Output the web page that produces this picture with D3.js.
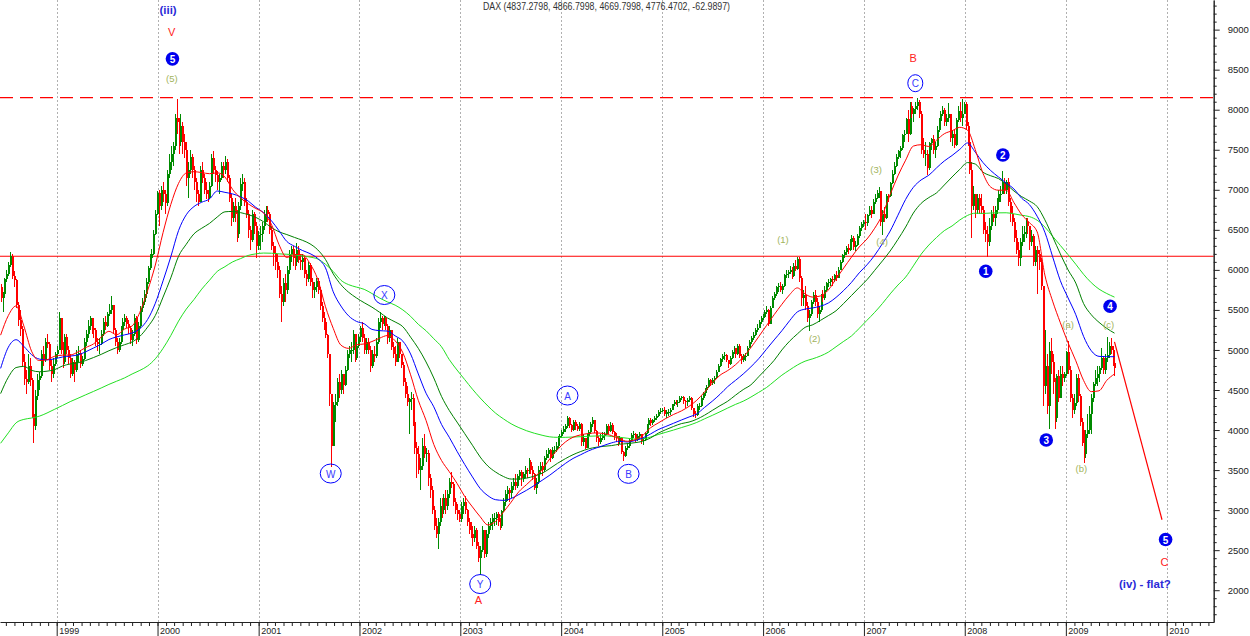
<!DOCTYPE html>
<html>
<head>
<meta charset="utf-8">
<script src="https://d3js.org/d3.v7.min.js"></script>
<style>
  body { margin: 0; background: #fff; }
  svg { display: block; }
  text { font-family: "Liberation Sans", Arial, sans-serif; }
</style>
</head>
<body>
<svg id="chart" width="1250" height="636"></svg>
<script>
// ---------------------------------------------------------
// DATA  (weekly bars, [high, low, close]; open = previous close)
// ---------------------------------------------------------
const firstWeek = "1998-06-12";
const firstOpen = 5780;
const titleText = "DAX (4837.2798, 4866.7998, 4669.7998, 4776.4702, -62.9897)";

const bars1998 = [[5820,5600,5650],[5720,5480,5700],[5900,5690,5880],[6000,5850,5950],[6100,5920,6060],[6220,6030,6170],[6200,5880,5920],[5990,5780,5870],[5880,5520,5560],[5600,5300,5380],
  [5500,5180,5260],[5300,4800,4850],[4950,4560,4640],[4750,4450,4600],[4950,4580,4800],[4900,4550,4620],[4650,4150,4200],[4250,3833,4050],[4500,4000,4420],[4700,4380,4620],
  [4720,4500,4671],[5000,4650,4950],[5050,4800,4870],[5150,4850,5100],[5200,5020,5080],[5100,4750,4800],[4880,4600,4700],[4900,4650,4820],[4980,4800,4950]];

const bars1999 = [[5050,4900,5002],[5480,5000,5400],[5400,4950,5000],[5100,4780,4850],[5200,4820,5159],[5200,4950,5000],[5050,4820,4900],[4950,4650,4700],[4900,4680,4854],[4880,4600,4750],
  [5000,4730,4950],[5050,4850,4960],[5000,4780,4820],[4920,4800,4884],[5150,4880,5100],[5250,5050,5200],[5380,5150,5300],[5420,5250,5393],[5400,5200,5280],[5350,5150,5250],
  [5280,5050,5100],[5150,4990,5069],[5150,4950,5080],[5250,5060,5200],[5400,5180,5350],[5420,5250,5300],[5480,5290,5450],[5580,5420,5500],[5670,5450,5560],[5560,5200,5250],
  [5280,5050,5098],[5150,4950,5000],[5150,4980,5100],[5300,5080,5250],[5400,5230,5350],[5450,5300,5400],[5430,5280,5330],[5380,5200,5280],[5300,5080,5130],[5250,5050,5200],
  [5450,5180,5400],[5420,5080,5120],[5350,5100,5300],[5550,5280,5524],[5650,5480,5600],[5750,5560,5700],[5900,5650,5850],[6050,5820,6026],[6200,6000,6150],[6260,6080,6200],
  [6500,6180,6450],[6750,6430,6700],[6990,6680,6958]];

const bars2000 = [[7000,6550,6800],[7050,6750,7000],[7100,6850,6950],[7000,6700,6835],[7250,6800,7200],[7450,7150,7350],[7550,7250,7450],[7600,7300,7550],[7950,7500,7900],[8136,7700,7850],
  [7900,7450,7600],[7950,7550,7800],[7850,7450,7599],[7700,7400,7500],[7600,7050,7150],[7350,6900,7250],[7500,7200,7414],[7450,7150,7250],[7300,7000,7100],[7150,6850,6950],
  [7000,6800,6850],[7300,6850,7250],[7350,7080,7150],[7200,6950,7000],[7100,6880,6950],[7000,6850,6898],[7100,6880,7050],[7450,7030,7400],[7480,7200,7250],[7300,7100,7190],
  [7230,7000,7100],[7200,6950,7150],[7350,7120,7300],[7350,7150,7250],[7420,7200,7350],[7380,7100,7150],[7180,6850,6900],[6950,6550,6650],[6850,6600,6798],[6900,6600,6700],
  [6750,6350,6450],[6850,6400,6800],[7150,6750,7077],[7200,6980,7100],[7150,6800,6850],[6900,6650,6700],[6750,6400,6500],[6550,6250,6372],[6750,6350,6700],[6720,6450,6550],
  [6600,6150,6300],[6480,6250,6434]];

const bars2001 = [[6550,6250,6450],[6600,6350,6550],[6750,6500,6700],[6800,6600,6750],[6800,6600,6700],[6720,6450,6500],[6550,6250,6300],[6350,6050,6208],[6300,6000,6100],[6200,5900,6000],
  [6050,5650,5700],[5800,5350,5600],[5900,5550,5830],[5950,5600,5750],[6050,5700,6000],[6250,5950,6200],[6300,6100,6265],[6300,6050,6150],[6200,6000,6100],[6330,6050,6250],
  [6300,6080,6123],[6200,6000,6100],[6200,6000,6150],[6170,5900,5950],[6000,5800,5880],[6100,5850,6058],[6080,5800,5850],[5900,5650,5750],[5850,5650,5780],[5900,5720,5862],
  [5900,5700,5750],[5780,5500,5550],[5600,5350,5400],[5480,5250,5350],[5400,5150,5188],[5200,4900,4950],[4950,4300,4450],[4450,3540,3800],[4350,3800,4308],[4450,4100,4350],
  [4650,4300,4600],[4700,4400,4500],[4750,4450,4700],[4700,4450,4559],[4800,4550,4750],[5000,4740,4950],[5050,4900,5000],[5100,4850,5002],[5250,4950,5200],[5200,4850,4900],
  [5100,4880,5050],[5200,5020,5160]];

const bars2002 = [[5300,5100,5280],[5350,5100,5150],[5200,4950,5000],[5150,4950,5100],[5150,4950,5000],[5050,4730,4800],[5000,4780,4950],[5050,4850,4920],[5150,4900,5100],[5400,5080,5350],
  [5470,5280,5400],[5420,5250,5320],[5420,5300,5397],[5420,5250,5300],[5320,5080,5150],[5300,5100,5250],[5250,5000,5041],[5100,4900,4950],[5050,4800,4850],[5150,4850,5100],
  [5100,4900,4950],[4950,4780,4818],[4850,4550,4600],[4650,4400,4450],[4550,4300,4350],[4400,3950,4383],[4480,4250,4400],[4450,4050,4100],[4150,3700,3780],[3850,3400,3700],
  [3800,3450,3500],[3650,3250,3550],[3900,3500,3800],[3950,3650,3700],[3780,3600,3712],[3750,3300,3400],[3450,3150,3250],[3300,2950,3000],[3050,2750,2800],[2900,2650,2700],
  [2900,2519,2850],[3150,2800,3050],[3150,2900,3000],[3200,2950,3150],[3250,2950,3050],[3250,3000,3200],[3400,3150,3350],[3470,3280,3320],[3350,3050,3100],[3150,2950,3000],
  [3080,2880,2950],[3000,2850,2893]];

const bars2003 = [[3100,2850,3050],[3150,2950,3100],[3180,2950,3000],[3020,2800,2850],[2900,2700,2747],[2850,2650,2700],[2800,2550,2650],[2800,2600,2750],[2780,2520,2548],[2600,2350,2400],
  [2550,2189,2500],[2800,2480,2750],[2750,2400,2450],[2750,2420,2700],[2850,2650,2800],[2900,2750,2850],[2950,2750,2900],[2960,2800,2900],[2980,2820,2950],[2980,2800,2850],
  [2900,2750,2800],[3000,2780,2983],[3150,2980,3100],[3250,3050,3200],[3300,3120,3250],[3280,3100,3220],[3350,3150,3300],[3400,3250,3350],[3450,3250,3300],[3450,3280,3420],
  [3500,3380,3480],[3500,3300,3400],[3480,3350,3450],[3550,3400,3500],[3520,3400,3485],[3650,3450,3600],[3620,3450,3500],[3550,3380,3450],[3460,3250,3280],[3400,3200,3350],
  [3550,3330,3500],[3600,3450,3550],[3600,3420,3500],[3680,3480,3655],[3750,3620,3700],[3780,3650,3750],[3760,3600,3650],[3790,3640,3746],[3800,3700,3750],[3850,3720,3800],
  [3920,3780,3900],[3950,3870,3930]];

const bars2004 = [[4000,3900,3970],[4050,3950,4010],[4080,3980,4050],[4170,4030,4150],[4160,4020,4059],[4080,3970,4000],[4130,3990,4100],[4120,4000,4050],[4080,3990,4018],[4100,3990,4080],
  [4090,3800,3850],[3950,3800,3900],[3900,3760,3780],[3950,3770,3930],[4000,3900,3980],[4100,3950,4080],[4160,4040,4120],[4130,3960,3985],[4000,3850,3900],[3920,3800,3850],
  [3950,3820,3900],[3980,3880,3921],[3980,3880,3950],[4080,3940,4050],[4080,3950,3990],[4100,3980,4060],[4090,3950,3980],[3990,3880,3920],[3960,3850,3900],[3920,3800,3850],
  [3920,3820,3896],[3900,3700,3720],[3740,3618,3680],[3800,3660,3780],[3840,3750,3800],[3900,3780,3880],[3960,3860,3940],[3990,3900,3950],[3960,3850,3880],[3950,3860,3930],
  [3980,3890,3950],[3950,3820,3860],[3900,3810,3870],[3980,3860,3960],[4080,3950,4060],[4150,4050,4120],[4150,4050,4090],[4140,4060,4126],[4180,4100,4150],[4200,4120,4170],
  [4250,4160,4230],[4270,4200,4240],[4280,4230,4256]];

const bars2005 = [[4290,4170,4200],[4250,4150,4220],[4260,4180,4230],[4270,4190,4254],[4330,4250,4320],[4370,4300,4350],[4380,4310,4340],[4370,4290,4350],[4420,4340,4400],[4430,4370,4410],
  [4420,4330,4360],[4370,4280,4349],[4400,4300,4380],[4420,4350,4400],[4410,4250,4270],[4280,4160,4200],[4240,4150,4185],[4320,4180,4300],[4340,4250,4300],[4420,4290,4400],
  [4470,4380,4460],[4520,4430,4500],[4560,4480,4540],[4650,4530,4620],[4640,4550,4587],[4650,4560,4630],[4680,4580,4650],[4750,4640,4730],[4830,4720,4800],[4900,4790,4886],
  [4950,4850,4920],[4980,4880,4940],[4950,4850,4870],[4880,4780,4830],[4920,4810,4900],[5000,4890,4980],[5050,4950,5020],[5030,4900,4950],[5070,4940,5044],[5080,4900,4930],
  [4950,4820,4880],[4950,4850,4920],[4960,4860,4929],[5050,4920,5030],[5120,5020,5100],[5180,5080,5150],[5220,5130,5193],[5280,5180,5250],[5320,5220,5280],[5380,5270,5350],
  [5420,5330,5400],[5450,5380,5408]];

const bars2006 = [[5500,5400,5480],[5550,5450,5500],[5510,5300,5320],[5550,5320,5530],[5680,5520,5650],[5720,5620,5700],[5800,5680,5780],[5830,5720,5796],[5850,5720,5750],[5820,5700,5800],
  [5950,5790,5930],[6000,5900,5950],[6000,5900,5970],[6050,5950,6000],[6030,5880,5920],[6080,5910,6050],[6120,5980,6009],[6160,6000,6140],[6160,5850,5900],[5920,5550,5650],
  [5750,5550,5692],[5800,5500,5550],[5600,5350,5400],[5500,5243,5450],[5620,5420,5600],[5720,5580,5683],[5750,5550,5600],[5650,5400,5450],[5550,5350,5500],[5700,5480,5682],
  [5750,5600,5650],[5800,5620,5750],[5850,5720,5830],[5880,5780,5850],[5900,5800,5880],[5920,5800,5870],[5950,5850,5930],[5980,5860,5900],[6040,5900,6004],[6120,6000,6100],
  [6200,6090,6180],[6250,6150,6220],[6300,6190,6269],[6320,6200,6250],[6380,6230,6350],[6440,6320,6400],[6420,6250,6280],[6360,6230,6309],[6450,6300,6420],[6550,6400,6520],
  [6600,6480,6570],[6620,6540,6597]];

const bars2007 = [[6700,6500,6580],[6700,6550,6680],[6800,6670,6750],[6800,6650,6700],[6880,6700,6850],[6950,6820,6900],[7000,6880,6960],[7040,6900,6980],[6980,6550,6600],[6750,6437,6700],
  [6780,6600,6650],[6950,6640,6920],[6950,6850,6917],[7100,6910,7080],[7250,7070,7200],[7350,7180,7300],[7450,7280,7409],[7500,7380,7480],[7550,7400,7520],[7700,7500,7680],
  [7750,7600,7700],[7900,7700,7883],[8000,7600,7700],[8100,7690,8050],[8100,7900,7950],[8020,7850,8007],[8100,7950,8050],[8151,8000,8100],[8120,7900,7950],[7980,7450,7500],
  [7650,7400,7450],[7600,7300,7450],[7500,7190,7270],[7600,7250,7580],[7650,7500,7638],[7680,7450,7500],[7600,7400,7550],[7800,7540,7750],[7900,7720,7862],[7980,7850,7950],
  [8050,7920,8000],[8020,7800,7850],[7950,7800,7900],[8080,7850,7950],[7950,7600,7650],[7750,7550,7700],[7750,7520,7560],[7900,7550,7871],[8050,7850,7990],[8100,7850,7900],
  [8130,7800,7950],[8100,7950,8067]];

const bars2008 = [[8100,7750,7800],[7850,7550,7600],[7650,7200,7250],[7350,6400,6800],[7050,6750,6950],[6950,6650,6750],[6950,6700,6900],[6950,6700,6800],[6950,6700,6748],[6800,6450,6500],
  [6600,6350,6450],[6550,6167,6350],[6650,6300,6550],[6750,6500,6700],[6800,6600,6650],[6800,6550,6750],[6900,6700,6850],[7000,6800,6950],[7050,6850,6950],[7230,6950,7100],
  [7150,6950,7000],[7120,6950,7097],[7150,6800,6850],[6900,6600,6700],[6800,6550,6600],[6650,6350,6400],[6500,6200,6250],[6350,6050,6150],[6400,6050,6350],[6550,6300,6450],
  [6550,6350,6479],[6650,6400,6600],[6650,6450,6550],[6550,6250,6350],[6500,6300,6422],[6450,6050,6100],[6300,6050,6250],[6300,5700,6200],[6250,6000,6100],[6150,5750,5800],
  [5800,4300,4550],[5250,4450,4800],[4950,4200,4300],[5100,4014,4988],[5150,4700,4850],[4950,4450,4600],[4650,4012,4150],[4700,4100,4669],[4750,4350,4400],[4800,4400,4700],
  [4800,4550,4650],[4720,4600,4700]];

const bars2009 = [[4990,4680,4980],[5110,4700,4750],[4800,4350,4400],[4450,4150,4250],[4450,4200,4338],[4700,4300,4650],[4700,4350,4420],[4450,4050,4100],[4150,3800,3844],[4000,3589,3700],
  [4000,3650,3950],[4200,3900,4000],[4300,3950,4200],[4450,3950,4400],[4600,4350,4580],[4750,4550,4650],[4800,4550,4700],[4800,4600,4770],[5020,4750,4900],[4920,4700,4750],
  [4950,4700,4900],[5165,4850,4941],[5100,4900,5050],[5150,4950,5000],[5050,4800,4839.46],[4866.8,4669.8,4776.47]];

// moving averages as drawn on the chart, one value every 4th weekly bar
const maRed = [5185,5430,5550,5300,4985,4868,4878,4922,4935,4937,
  4975,5030,5075,5160,5233,5190,5260,5300,5470,5740,
  6060,6466,6816,7080,7210,7226,7215,7201,7212,7160,
  7003,6900,6825,6766,6710,6570,6313,6155,6192,6190,
  6077,5880,5540,5270,5060,5020,5065,5075,5105,5147,
  5180,5115,4965,4690,4370,4120,3820,3620,3480,3335,
  3170,3040,2917,2815,2860,2975,3100,3230,3320,3410,
  3505,3640,3755,3850,3910,3940,3957,3964,3955,3930,
  3890,3860,3878,3931,4027,4087,4145,4195,4238,4296,
  4372,4474,4585,4684,4743,4815,4910,5030,5165,5303,
  5440,5570,5690,5775,5700,5660,5675,5748,5887,6024,
  6160,6286,6385,6520,6690,6941,7173,7370,7546,7563,
  7541,7620,7700,7737,7780,7745,7502,7206,7034,6995,
  6995,6840,6690,6590,6475,5935,5610,5340,5090,4865,
  4620,4480,4490,4620,4700];

const maBlue = [4770,5035,5128,5045,4942,4886,4876,4890,4912,4924,
  4938,4977,5024,5072,5130,5163,5188,5212,5265,5380,
  5583,5863,6163,6490,6688,6791,6845,6885,6985,6968,
  6948,6913,6860,6780,6715,6615,6488,6355,6294,6243,
  6203,6142,6025,5726,5548,5425,5357,5327,5257,5241,
  5236,5176,5110,4950,4700,4460,4290,4070,3910,3735,
  3570,3415,3270,3180,3130,3122,3145,3195,3248,3308,
  3372,3437,3510,3582,3645,3692,3740,3776,3808,3840,
  3860,3850,3868,3900,3950,4005,4045,4085,4125,4163,
  4202,4282,4360,4446,4542,4620,4700,4790,4890,5008,
  5125,5240,5365,5475,5510,5525,5547,5586,5656,5744,
  5844,5963,6063,6183,6328,6485,6682,6880,7031,7123,
  7182,7274,7360,7428,7505,7585,7470,7340,7240,7160,
  7085,7010,6895,6815,6670,6470,6165,5865,5650,5440,
  5170,4990,4920,4916,4916];

const maGreen = [4455,4660,4780,4795,4745,4728,4735,4755,4800,4825,
  4840,4868,4905,4945,4990,5030,5065,5100,5170,5285,
  5430,5660,5900,6170,6320,6450,6520,6580,6660,6725,
  6730,6715,6690,6655,6600,6530,6475,6441,6405,6370,
  6325,6250,6130,5950,5815,5720,5650,5590,5535,5470,
  5400,5350,5290,5160,5020,4850,4650,4420,4245,4100,
  3955,3810,3663,3550,3475,3420,3388,3388,3400,3425,
  3460,3520,3585,3642,3692,3732,3765,3785,3797,3806,
  3823,3830,3842,3860,3900,3960,4005,4045,4080,4100,
  4135,4185,4245,4304,4360,4435,4505,4565,4665,4765,
  4870,5000,5110,5200,5282,5315,5370,5428,5489,5582,
  5680,5779,5877,5994,6112,6236,6380,6535,6710,6830,
  6903,6962,7060,7160,7255,7340,7322,7220,7175,7140,
  7070,6985,6915,6860,6790,6625,6415,6200,6000,5835,
  5580,5440,5345,5270,5210];

const maLime = [3835,3965,4090,4133,4150,4173,4213,4260,4307,4355,
  4397,4440,4482,4525,4570,4610,4650,4700,4745,4800,
  4890,5020,5180,5360,5510,5630,5760,5870,5980,6040,
  6100,6140,6180,6200,6210,6208,6200,6195,6187,6175,
  6160,6135,6070,5980,5870,5815,5785,5757,5705,5648,
  5600,5560,5500,5420,5320,5240,5140,5040,4880,4750,
  4630,4510,4400,4300,4210,4140,4078,4030,3991,3960,
  3935,3915,3909,3909,3913,3917,3922,3926,3930,3920,
  3910,3898,3888,3890,3912,3944,3972,4000,4030,4060,
  4095,4140,4183,4228,4275,4320,4360,4412,4470,4530,
  4607,4685,4750,4812,4860,4890,4925,4972,5040,5108,
  5175,5270,5370,5470,5580,5700,5810,5910,6050,6195,
  6310,6405,6490,6548,6623,6680,6708,6705,6710,6712,
  6713,6700,6682,6665,6620,6535,6420,6305,6190,6070,
  5945,5840,5760,5705,5660];

// horizontal reference levels and the projected path
const resistanceLevel = 8150;
const supportLevel = 6170;
const projection = [["2009-06-26", 5100], ["2009-12-15", 2880]];

// Elliott wave annotations
const ringLabels = [["W","2001-09-19",3457],["X","2002-04-01",5686],["Y","2003-03-14",2077],
  ["A","2004-01-24",4431],["B","2004-09-01",3453],["C","2007-07-06",8331]];
const dotLabels = [["5","2000-02-24",8635],["1","2008-03-17",5983],["2","2008-05-18",7434],
  ["3","2008-10-22",3875],["4","2009-06-10",5545],["5","2009-12-28",2633]];
const subLabels = [["(5)","2000-02-22",8396],["(1)","2006-03-14",6381],["(2)","2006-07-07",5140],
  ["(3)","2007-02-14",7252],["(4)","2007-03-08",6360],["(a)","2009-01-09",5317],
  ["(b)","2009-02-26",3518],["(c)","2009-06-05",5317]];
const redLabels = [["V","2000-02-21",8975],["A","2003-03-08",1872],["B","2007-06-28",8645],["C","2009-12-24",2358]];
const degreeLabels = [["(iii)","2000-02-08",9245],["(iv) - flat?","2009-10-14",2077]];

// ---------------------------------------------------------
// SETUP
// ---------------------------------------------------------
const parse = d3.timeParse("%Y-%m-%d");
const axisX = 1213.7, axisY = 622;
const upColor = "#008a00", downColor = "#ff0000";

const svg = d3.select("#chart");

const xCal = d3.scaleTime()
  .domain([new Date(1999, 0, 1), new Date(2010, 0, 1)])
  .range([56.7, 1166.7]);
const x = d3.scaleTime()
  .domain([xCal.invert(0), xCal.invert(axisX)])
  .range([0, axisX]);
const y = d3.scaleLinear().domain([1603, 9370]).range([axisY, 0]);

const start = parse(firstWeek);
let prevClose = firstOpen;
const bars = [bars1998, bars1999, bars2000, bars2001, bars2002, bars2003, bars2004,
  bars2005, bars2006, bars2007, bars2008, bars2009].flat().map((r, i) => {
    const b = { date: d3.timeDay.offset(start, 7 * i), open: prevClose, high: r[0], low: r[1], close: r[2] };
    prevClose = r[2];
    return b;
  });

// ---------------------------------------------------------
// GRID + REFERENCE LINES
// ---------------------------------------------------------
const years = x.ticks(d3.timeYear.every(1));

svg.append("g").selectAll("line")
  .data(years)
  .join("line")
  .attr("x1", d => Math.round(x(d)) + 0.5).attr("x2", d => Math.round(x(d)) + 0.5)
  .attr("y1", 0).attr("y2", axisY)
  .attr("stroke", "#b0b0b0").attr("stroke-dasharray", "2,2");

svg.append("line")
  .attr("x1", 0).attr("x2", axisX)
  .attr("y1", y(resistanceLevel)).attr("y2", y(resistanceLevel))
  .attr("stroke", "#ff0000").attr("stroke-width", 1.2).attr("stroke-dasharray", "13,7");

svg.append("line")
  .attr("x1", 0).attr("x2", axisX)
  .attr("y1", y(supportLevel)).attr("y2", y(supportLevel))
  .attr("stroke", "#ff0000").attr("stroke-width", 1.2);

// ---------------------------------------------------------
// CANDLES
// ---------------------------------------------------------
const candles = svg.append("g")
  .attr("shape-rendering", "crispEdges")
  .selectAll("g")
  .data(bars)
  .join("g")
  .attr("transform", d => `translate(${Math.round(x(d.date))},0)`);

candles.append("line")
  .attr("x1", 0.5).attr("x2", 0.5)
  .attr("y1", d => y(Math.max(d.high, d.open, d.close)))
  .attr("y2", d => y(Math.min(d.low, d.open, d.close)))
  .attr("stroke", d => d.close >= d.open ? upColor : downColor)
  .attr("stroke-width", 1);

candles.append("rect")
  .attr("x", -0.5)
  .attr("width", 2)
  .attr("y", d => y(Math.max(d.open, d.close)))
  .attr("height", d => Math.max(1, Math.abs(y(d.open) - y(d.close))))
  .attr("fill", d => d.close >= d.open ? upColor : downColor);

// ---------------------------------------------------------
// MOVING AVERAGES
// ---------------------------------------------------------
const maLine = d3.line()
  .x(d => x(d[0]))
  .y(d => y(d[1]))
  .curve(d3.curveMonotoneX);

[[maLime, "#22e022"], [maGreen, "#008000"], [maBlue, "#0000ff"], [maRed, "#ff0000"]].forEach(([vals, color]) => {
  const pts = vals.map((v, k) => [bars[Math.min(k * 4, bars.length - 1)].date, v]);
  svg.append("path")
    .datum(pts)
    .attr("d", maLine)
    .attr("fill", "none")
    .attr("stroke", color)
    .attr("stroke-width", 1);
});

svg.append("path")
  .datum(projection.map(p => [parse(p[0]), p[1]]))
  .attr("d", d3.line().x(d => x(d[0])).y(d => y(d[1])))
  .attr("fill", "none")
  .attr("stroke", "#ff0000")
  .attr("stroke-width", 1.2);

// ---------------------------------------------------------
// AXES
// ---------------------------------------------------------
const yMinor = d3.range(1700, 9400, 100).filter(v => v % 500 !== 0);
const yMajor = d3.range(2000, 9001, 500);

svg.append("g")
  .attr("transform", `translate(${axisX},0)`)
  .call(d3.axisRight(y).tickValues(yMinor).tickSize(3).tickFormat("").tickSizeOuter(0))
  .call(g => g.selectAll("line,path").attr("stroke", "#222"));

svg.append("g")
  .attr("transform", `translate(${axisX},0)`)
  .call(d3.axisRight(y).tickValues(yMajor).tickSize(6).tickPadding(8).tickFormat(d3.format("d")).tickSizeOuter(0))
  .call(g => g.selectAll("line,path").attr("stroke", "#222"))
  .call(g => g.selectAll("text").attr("font-size", 9.5).attr("fill", "#222")
    .attr("font-family", "'Liberation Sans', Arial, sans-serif"));

svg.append("g")
  .attr("transform", `translate(0,${axisY})`)
  .call(d3.axisBottom(x).ticks(d3.timeMonth.every(1)).tickSize(4).tickFormat("").tickSizeOuter(0))
  .call(g => g.selectAll("line,path").attr("stroke", "#222"));

svg.append("g")
  .attr("transform", `translate(0,${axisY})`)
  .call(d3.axisBottom(x).tickValues(years).tickSize(14).tickFormat(d3.timeFormat("%Y")).tickSizeOuter(0))
  .call(g => g.select(".domain").remove())
  .call(g => g.selectAll("line").attr("stroke", "#222"))
  .call(g => g.selectAll("text")
    .attr("text-anchor", "start").attr("x", 2).attr("y", 6)
    .attr("font-size", 9).attr("fill", "#222")
    .attr("font-family", "'Liberation Sans', Arial, sans-serif"));

svg.append("text")
  .attr("x", 483).attr("y", 9.5)
  .attr("font-size", 10)
  .attr("fill", "#333")
  .attr("textLength", 247)
  .attr("lengthAdjust", "spacingAndGlyphs")
  .text(titleText);

// ---------------------------------------------------------
// ANNOTATIONS
// ---------------------------------------------------------
const ann = svg.append("g");
const at = d => [x(parse(d[1])), y(d[2])];

ringLabels.forEach(d => {
  const [cx, cy] = at(d);
  const round = d[0] === "C";
  ann.append("ellipse")
    .attr("cx", cx).attr("cy", cy)
    .attr("rx", round ? 7.5 : 10.5).attr("ry", round ? 8.5 : 9.5)
    .attr("fill", "none").attr("stroke", "#0000ff").attr("stroke-width", 1);
  ann.append("text")
    .attr("x", cx).attr("y", cy + 0.5)
    .attr("text-anchor", "middle").attr("dominant-baseline", "central")
    .attr("font-size", 10).attr("fill", "#3a3aff")
    .text(d[0]);
});

dotLabels.forEach(d => {
  const [cx, cy] = at(d);
  ann.append("circle").attr("cx", cx).attr("cy", cy).attr("r", 6.8).attr("fill", "#0000ee");
  ann.append("text")
    .attr("x", cx).attr("y", cy + 0.5)
    .attr("text-anchor", "middle").attr("dominant-baseline", "central")
    .attr("font-size", 10).attr("font-weight", "bold").attr("fill", "#fff")
    .text(d[0]);
});

subLabels.forEach(d => {
  const [cx, cy] = at(d);
  ann.append("text")
    .attr("x", cx).attr("y", cy)
    .attr("text-anchor", "middle").attr("dominant-baseline", "central")
    .attr("font-size", 9.5).attr("fill", "#a2b45c")
    .text(d[0]);
});

redLabels.forEach(d => {
  const [cx, cy] = at(d);
  ann.append("text")
    .attr("x", cx).attr("y", cy)
    .attr("text-anchor", "middle").attr("dominant-baseline", "central")
    .attr("font-size", 11).attr("fill", "#ff2020")
    .text(d[0]);
});

degreeLabels.forEach(d => {
  const [cx, cy] = at(d);
  ann.append("text")
    .attr("x", cx).attr("y", cy)
    .attr("text-anchor", "middle").attr("dominant-baseline", "central")
    .attr("font-size", 11.5).attr("font-weight", "bold").attr("fill", "#2b2bd8")
    .text(d[0]);
});
</script>
</body>
</html>
